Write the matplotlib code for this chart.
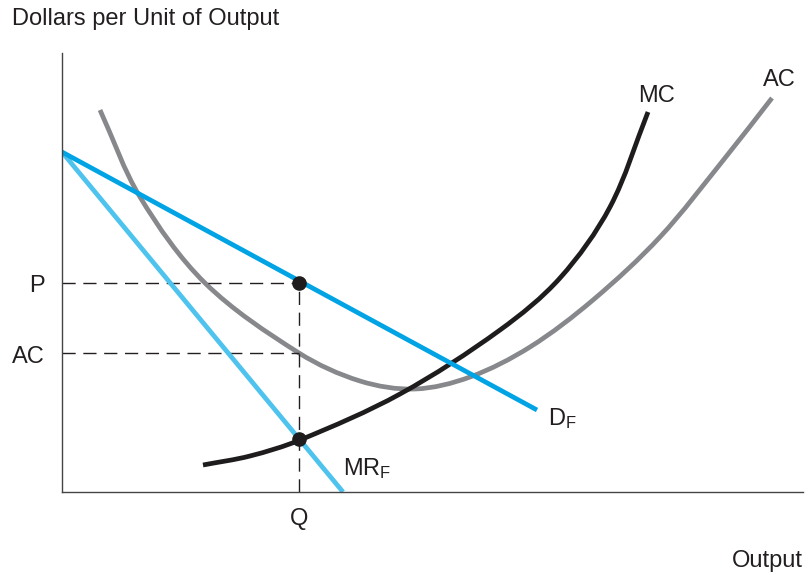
import matplotlib
matplotlib.use("Agg")
import matplotlib.pyplot as plt
from matplotlib.path import Path
from matplotlib.patches import PathPatch

plt.rcParams['font.family'] = ['Liberation Sans', 'DejaVu Sans']
plt.rcParams['mathtext.fontset'] = 'custom'
plt.rcParams['mathtext.rm'] = 'Liberation Sans'
plt.rcParams['mathtext.it'] = 'Liberation Sans'

# demand and marginal revenue (straight lines)
d_x = [0, 475]
d_y = [340, 82]
mr_x = [0, 281]
mr_y = [340, 0]

# average cost curve
ac_x = [38, 78, 143, 237, 298, 353, 408, 468, 531, 598, 663, 710]
ac_y = [382, 295, 209, 139, 111, 103, 115, 145, 192, 255, 334, 394]

# marginal cost curve
mc_x = [141, 188, 238, 338, 438, 498, 548, 586]
mc_y = [27, 36, 52, 98, 162, 214, 285, 380]

# equilibrium
q = 237
p = 209
ac_q = 139
mc_q = 53


def smooth_curve(xs, ys):
    # bezier path through the read points, handles scaled by chord length
    pts = list(zip(xs, ys))
    n = len(pts)
    d = [((pts[i + 1][0] - pts[i][0]) ** 2 + (pts[i + 1][1] - pts[i][1]) ** 2) ** 0.5
         for i in range(n - 1)]
    tang = []
    for i in range(n):
        a = pts[max(i - 1, 0)]
        b = pts[min(i + 1, n - 1)]
        L = (d[i - 1] if i > 0 else 0) + (d[i] if i < n - 1 else 0)
        tang.append(((b[0] - a[0]) / L, (b[1] - a[1]) / L))
    verts = [pts[0]]
    codes = [Path.MOVETO]
    for i in range(n - 1):
        h = d[i] / 3
        c1 = (pts[i][0] + tang[i][0] * h, pts[i][1] + tang[i][1] * h)
        c2 = (pts[i + 1][0] - tang[i + 1][0] * h, pts[i + 1][1] - tang[i + 1][1] * h)
        verts += [c1, c2, pts[i + 1]]
        codes += [Path.CURVE4] * 3
    return Path(verts, codes)


fig = plt.figure(figsize=(8.11, 5.75), dpi=100)
ax = fig.add_axes([62/811, 83/575, 741/811, 439/575])
ax.set_xlim(0, 741)
ax.set_ylim(0, 439)
for s in ['top', 'right']:
    ax.spines[s].set_visible(False)
for s in ['left', 'bottom']:
    ax.spines[s].set_color('#444444')
    ax.spines[s].set_linewidth(1.0)
ax.set_xticks([])
ax.set_yticks([])

txt = '#231f20'
dash = dict(color='#231f20', lw=1.0, dashes=(9.5, 5.5))
ax.plot([0, q], [p, p], **dash)
ax.plot([0, q], [ac_q, ac_q], **dash)
ax.plot([q, q], [0, p], **dash)

lw = 3.4
ax.plot(mr_x, mr_y, color='#4dc3ee', lw=lw, solid_capstyle='butt')
ax.plot(d_x, d_y, color='#00a3e4', lw=lw, solid_capstyle='butt')
ax.add_patch(PathPatch(smooth_curve(ac_x, ac_y), fill=False, edgecolor='#87888b',
                       lw=lw, capstyle='butt'))
ax.add_patch(PathPatch(smooth_curve(mc_x, mc_y), fill=False, edgecolor='#1e1c1d',
                       lw=lw, capstyle='butt'))

ax.plot([q, q], [p, mc_q], 'o', color='#1e1c1d', ms=9.5, zorder=5)

fs = 17
kw = dict(fontsize=fs, color=txt, clip_on=False)
ax.text(-17, 200, 'P', ha='right', va='baseline', **kw)
ax.text(-17, 129, 'AC', ha='right', va='baseline', **kw)
ax.text(q, -33, 'Q', ha='center', va='baseline', **kw)
ax.text(281, 17, r'MR$_\mathrm{F}$', ha='left', va='baseline', **kw)
ax.text(486, 67, r'D$_\mathrm{F}$', ha='left', va='baseline', **kw)
ax.text(576, 390, 'MC', ha='left', va='baseline', **kw)
ax.text(701, 406, 'AC', ha='left', va='baseline', **kw)

fig.text(12/811, 1 - 25/575, 'Dollars per Unit of Output', ha='left', va='baseline',
         fontsize=fs, color=txt)
fig.text(732/811, 1 - 567/575, 'Output', ha='left', va='baseline', fontsize=fs, color=txt)

fig.savefig('out.png', dpi=100)
